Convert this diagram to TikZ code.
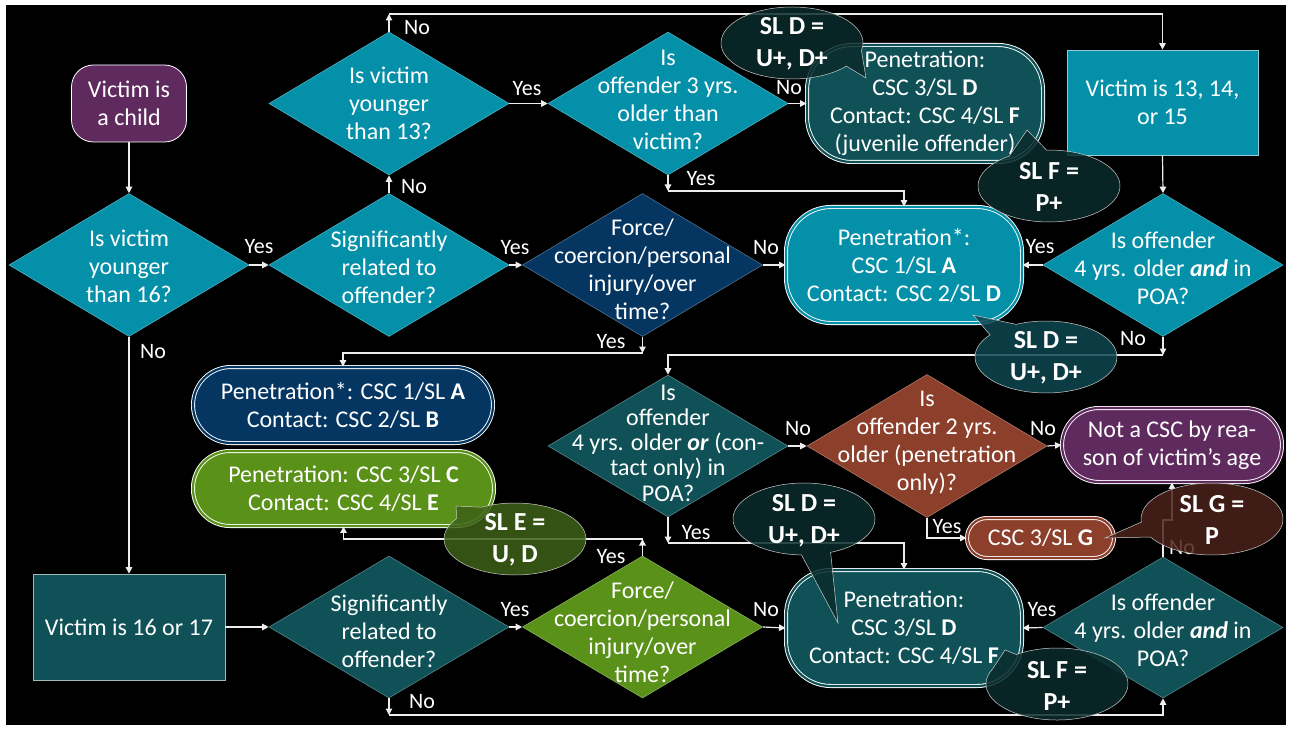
\documentclass[tikz,border=0pt]{standalone}
\usepackage{fontspec}
\setmainfont{Carlito}
\usetikzlibrary{arrows.meta,shapes.geometric,calc}
\definecolor{tealA}{HTML}{0590A9}
\definecolor{tealB}{HTML}{0F5156}
\definecolor{navyA}{HTML}{053661}
\definecolor{greenA}{HTML}{5A9119}
\definecolor{brownA}{HTML}{8C3F2B}
\definecolor{purpA}{HTML}{5F2A5E}
\definecolor{callDark}{HTML}{0B2B2C}
\definecolor{callMid}{HTML}{0E4751}
\definecolor{callGreen}{HTML}{3C6117}
\definecolor{callBrown}{HTML}{4B2219}
\definecolor{lineC}{HTML}{EDEDED}
% #1 colour, #2 centre, #3 a1, #4 a2, #5 tip, #6 end angle (a1+360)
\newcommand{\callbub}[6]{%
  \path[fill=#1, fill opacity=0.85, draw=white!60!gray, line width=0.5pt]
    ($(#2)+(#3:71pt and 36pt)$) -- (#5) -- ($(#2)+(#4:71pt and 36pt)$)
    arc[start angle=#4, end angle=#6, x radius=71pt, y radius=36pt] -- cycle;
}
\begin{document}
\begin{tikzpicture}[x=1pt,y=-1pt,
  txt/.style={text=white, align=center, font=\fontsize{24}{28}\selectfont, inner sep=0pt},
  txttight/.style={txt, font=\fontsize{24}{25.3}\selectfont},
  lbl/.style={text=white, font=\fontsize{22}{26}\selectfont, inner sep=0pt},
  dia/.style={diamond, inner sep=0pt, minimum width=240pt, minimum height=143pt, fill=#1, draw=white!30!#1, line width=0.6pt},
  dbox/.style={rectangle, inner sep=0pt, fill=#1, draw=white, line width=0.9pt, double=#1, double distance=2.2pt},
  sbox/.style={rectangle, inner sep=0pt, fill=#1, draw=white!55!#1, line width=0.8pt},
  arr/.style={draw=lineC, line width=1.2pt, -{Triangle[length=6.5pt,width=6.5pt]}},
  ctxt/.style={text=white, align=center, font=\bfseries\fontsize{26}{32}\selectfont, inner sep=0pt},
]
\useasboundingbox (0,0) rectangle (1291,730);
\fill[white] (0,0) rectangle (1291,730);
\fill[black] (6,5) rectangle (1286,725);

% ---------- nodes ----------
\node[sbox=purpA, draw=white, rounded corners=22pt, minimum width=115pt, minimum height=77pt, txt] (child) at (129,103.5) {Victim is\\a child};

\node[dia=tealA] (d16) at (129,265) {};
\node[txt] (d16T) at (129,266) {Is victim\\younger\\than 16?};

\node[dia=tealA] (sig1) at (389,265) {};
\node[txt] (sig1T) at (389,267) {Significantly\\related to\\offender?};

\node[dia=tealA] (d13) at (389,103.5) {};
\node[txt] (d13T) at (389,103.5) {Is victim\\younger\\than 13?};

\node[dia=tealA] (off3) at (668,103.5) {};
\node[txt] (off3T) at (668,100) {Is\\offender 3 yrs.\\older than\\victim?};

\node[dbox=tealB, rounded corners=45pt, minimum width=236pt, minimum height=117pt, txt] (juv) at (925,103.5) {Penetration:\\CSC 3/SL \textbf{D}\\Contact: CSC 4/SL \textbf{F}\\(juvenile offender)};

\node[sbox=tealA, minimum width=191pt, minimum height=105pt, txt] (v13) at (1162.5,102.5) {Victim is 13, 14,\\or 15};

\node[dia=tealA] (and1) at (1163,265) {};
\node[txt] (and1T) at (1163,268) {Is offender\\4 yrs. older \textbf{\textit{and}} in\\POA?};

\node[dia=navyA] (force1) at (642.5,265) {};
\node[txt] (force1T) at (642.5,269) {Force/\\coercion/personal\\injury/over\\time?};

\node[dbox=tealA, rounded corners=45pt, minimum width=236pt, minimum height=116pt, txt] (pen1) at (904,265) {Penetration*:\\CSC 1/SL \textbf{A}\\Contact: CSC 2/SL \textbf{D}};

\node[dbox=navyA, rounded corners=38pt, minimum width=300pt, minimum height=76pt, txt] (navyb) at (343,405) {Penetration*: CSC 1/SL \textbf{A}\\Contact: CSC 2/SL \textbf{B}};

\node[dbox=greenA, rounded corners=37pt, minimum width=301pt, minimum height=75pt, txt] (grnb) at (343.5,488.5) {Penetration: CSC 3/SL \textbf{C}\\Contact: CSC 4/SL \textbf{E}};

\node[dia=tealB, minimum height=142pt] (or4) at (668,446) {};
\node[txttight] (or4T) at (668,443) {Is\\offender\\4 yrs. older \textbf{\textit{or}} (con-\\tact only) in\\POA?};

\node[dia=brownA] (two) at (927,446) {};
\node[txt] (twoT) at (927,443) {Is\\offender 2 yrs.\\older (penetration\\only)?};

\node[dbox=purpA, rounded corners=37pt, minimum width=220pt, minimum height=74pt, txt] (notcsc) at (1172,445) {Not a CSC by rea-\\son of victim’s age};

\node[dbox=brownA, rounded corners=20pt, minimum width=147pt, minimum height=40pt, txt] (gbox) at (1040.5,538) {CSC 3/SL \textbf{G}};

\node[sbox=tealB, draw=white!60!tealB, minimum width=192pt, minimum height=106pt, txt] (v16) at (129,627) {Victim is 16 or 17};

\node[dia=tealB, minimum height=142pt] (sig2) at (389,627) {};
\node[txt] (sig2T) at (389,631) {Significantly\\related to\\offender?};

\node[dia=greenA, minimum height=142pt] (force2) at (642.5,627) {};
\node[txt] (force2T) at (642.5,632) {Force/\\coercion/personal\\injury/over\\time?};

\node[dbox=tealB, rounded corners=45pt, minimum width=236pt, minimum height=116pt, txt] (pen3) at (904,628) {Penetration:\\CSC 3/SL \textbf{D}\\Contact: CSC 4/SL \textbf{F}};

\node[dia=tealB, minimum height=141pt] (and2) at (1163,627.5) {};
\node[txt] (and2T) at (1163,630) {Is offender\\4 yrs. older \textbf{\textit{and}} in\\POA?};

% ---------- junctions ----------
\coordinate (jA) at (389,14);
\coordinate (jB) at (668,191);
\coordinate (jC) at (642.5,353);
\coordinate (jD) at (1163,355);
\coordinate (jE) at (668,543);
\coordinate (jF) at (642.5,539);
\coordinate (jG) at (389,715);
\coordinate (jH) at (1163,520);

% ---------- connectors ----------
\draw[arr] (child.south) -- (d16.north);
\draw[arr] (d16.east) -- (sig1.west);
\draw[arr] (sig1.north) -- (d13.south);
\draw[arr] (sig1.east) -- (force1.west);
\draw[arr] (d13.north) -- (jA);
\draw[arr] (jA) -| (v13.north);
\draw[arr] (d13.east) -- (off3.west);
\draw[arr] (off3.east) -- (juv.west);
\draw[arr] (off3.south) -- (jB);
\draw[arr] (jB) -| (pen1.north);
\draw[arr] (force1.east) -- (pen1.west);
\draw[arr] (force1.south) -- (jC);
\draw[arr] (jC) -| (navyb.north);
\draw[arr] (v13.south) -- (and1.north);
\draw[arr] (and1.west) -- (pen1.east);
\draw[arr] (and1.south) -- (jD);
\draw[arr] (jD) -| (or4.north);
\draw[arr] (or4.east) -- (two.west);
\draw[arr] (two.east) -- (notcsc.west);
\draw[arr] (two.south) |- (gbox.west);
\draw[arr] (or4.south) -- (jE);
\draw[arr] (jE) -| (pen3.north);
\draw[arr] (d16.south) -- (v16.north);
\draw[arr] (v16.east) -- (sig2.west);
\draw[arr] (sig2.east) -- (force2.west);
\draw[arr] (sig2.south) -- (jG);
\draw[arr] (jG) -| (and2.south);
\draw[arr] (force2.east) -- (pen3.west);
\draw[arr] (force2.north) -- (jF);
\draw[arr] (jF) -| (grnb.south);
\draw[arr] (and2.west) -- (pen3.east);
\draw[arr] (and2.north) -- (jH) -| (notcsc.south);

% ---------- labels ----------
\node[lbl] (l1) at (259,247) {Yes};
\node[lbl] (l2) at (414,187) {No};
\node[lbl] (l3) at (417,28) {No};
\node[lbl] (l4) at (527,89) {Yes};
\node[lbl] (l5) at (789,88) {No};
\node[lbl] (l6) at (701,179) {Yes};
\node[lbl] (l7) at (515,248) {Yes};
\node[lbl] (l8) at (766,248) {No};
\node[lbl] (l9) at (611,342) {Yes};
\node[lbl] (l10) at (1040,247) {Yes};
\node[lbl] (l11) at (1133,339) {No};
\node[lbl] (l12) at (153,352) {No};
\node[lbl] (l13) at (798,429) {No};
\node[lbl] (l14) at (1043,429) {No};
\node[lbl] (l15) at (696,533) {Yes};
\node[lbl] (l16) at (947,527) {Yes};
\node[lbl] (l17) at (611,557) {Yes};
\node[lbl] (l18) at (515,610) {Yes};
\node[lbl] (l19) at (766,610) {No};
\node[lbl] (l20) at (1042,610) {Yes};
\node[lbl] (l21) at (1182,548) {No};
\node[lbl] (l22) at (422,702) {No};

% ---------- callouts ----------
\coordinate (cAc) at (792,43);    \coordinate (cAtip) at (866,78);
\coordinate (cBc) at (1049,186);  \coordinate (cBtip) at (1027,130);
\coordinate (cCc) at (1046,357);  \coordinate (cCtip) at (973,315);
\coordinate (cDc) at (515,539);   \coordinate (cDtip) at (456,506);
\coordinate (cEc) at (804,519);   \coordinate (cEtip) at (838,623);
\coordinate (cFc) at (1057,684);  \coordinate (cFtip) at (1005,650);
\coordinate (cGc) at (1212,519);  \coordinate (cGtip) at (1105,538);

\callbub{callDark}{cAc}{-40}{-12}{cAtip}{320}
\node[ctxt] (cAT) at (792,44) {SL D =\\U+, D+};
\callbub{callDark}{cBc}{92}{124}{cBtip}{452}
\node[ctxt] (cBT) at (1049,187) {SL F =\\P+};
\callbub{callMid}{cCc}{115}{142}{cCtip}{475}
\node[ctxt] (cCT) at (1046,358) {SL D =\\U+, D+};
\callbub{callGreen}{cDc}{118}{145}{cDtip}{478}
\node[ctxt] (cDT) at (515,540) {SL E =\\U, D};
\callbub{callDark}{cEc}{-92}{-68}{cEtip}{268}
\node[ctxt] (cET) at (804,521) {SL D =\\U+, D+};
\callbub{callDark}{cFc}{125}{155}{cFtip}{485}
\node[ctxt] (cFT) at (1057,686) {SL F =\\P+};
\callbub{callBrown}{cGc}{185}{210}{cGtip}{545}
\node[ctxt] (cGT) at (1212,520) {SL G =\\P};
\end{tikzpicture}
\end{document}
